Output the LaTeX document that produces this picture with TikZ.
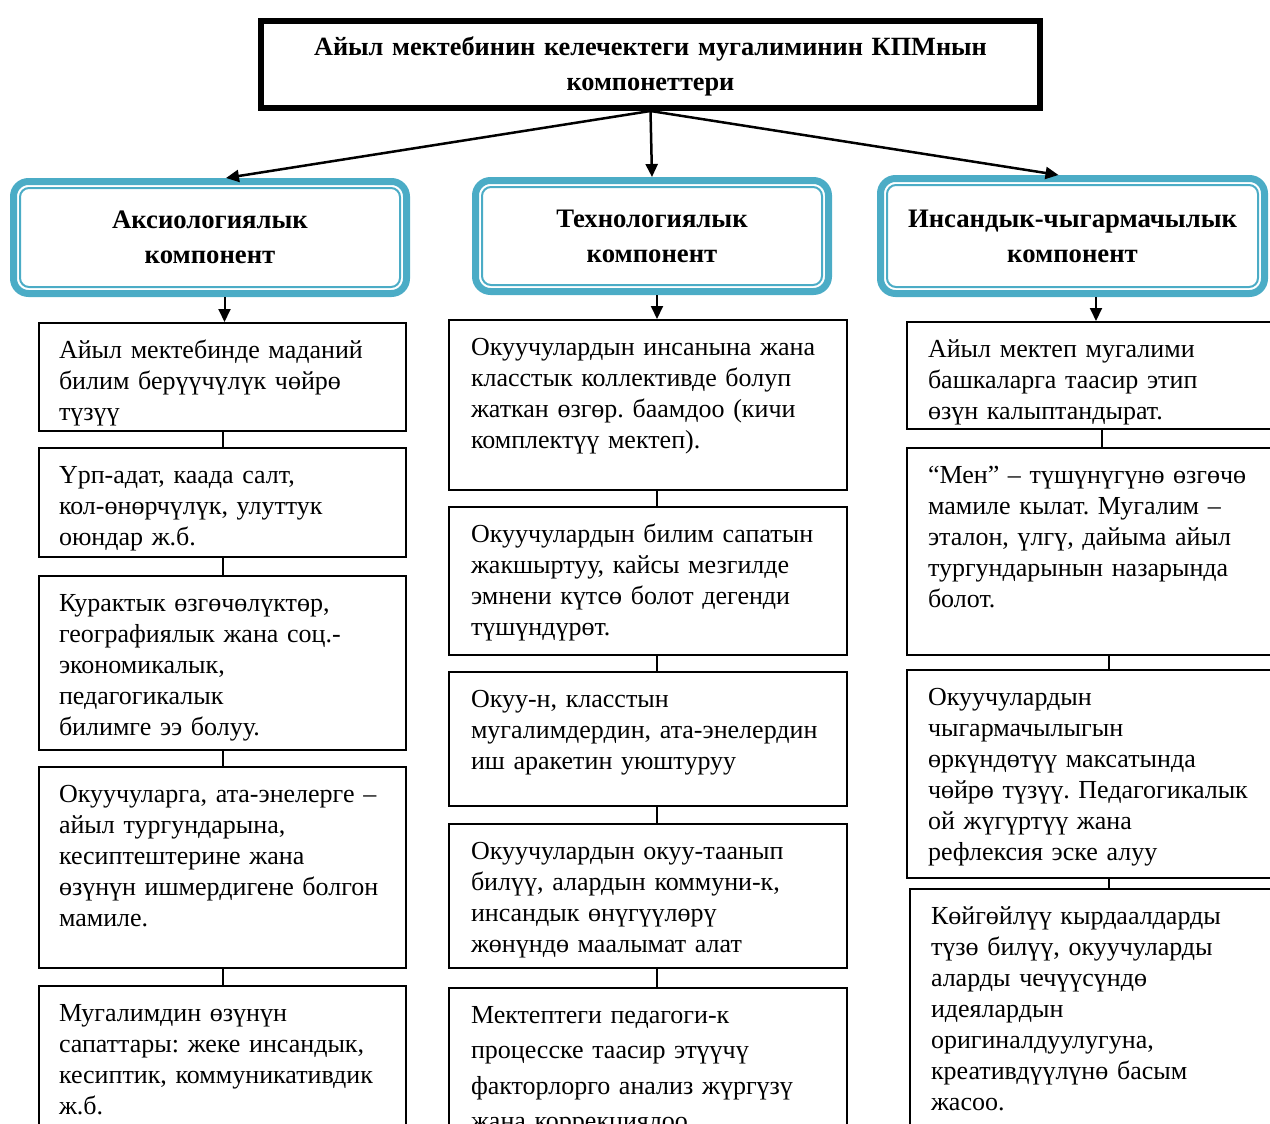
\documentclass[tikz,border=0pt]{standalone}
\usepackage{fontspec}
\setmainfont{Liberation Serif}
\usetikzlibrary{arrows.meta}
\definecolor{compcolor}{RGB}{75,172,198}
\frenchspacing

\begin{document}
\begin{tikzpicture}[x=1pt,y=-1pt,>={Triangle[length=13pt,width=12pt]},line width=2pt,
  title box/.style={draw,line width=6pt,text width=760pt,inner xsep=9.5pt,inner ysep=0pt,text height=35pt,text depth=52pt,anchor=north,align=center,font=\fontsize{26.3}{35}\selectfont\bfseries},
  comp box/.style={draw=compcolor,line width=7pt,rounded corners=15pt,align=center,font=\fontsize{26.7}{35}\selectfont\bfseries},
  item box/.style={draw,line width=2pt,anchor=north west,align=left,inner ysep=0pt,text height=35pt,font=\fontsize{26}{31}\selectfont}]
  \useasboundingbox (0,0) rectangle (1270,1124);
  \clip (0,0) rectangle (1270,1124);

  \node[title box] (title) at (650.5,18) {Айыл мектебинин келечектеги мугалиминин КПМнын\\компонеттери};

  \node[comp box,minimum width=393pt,minimum height=112pt] (ca) at (210,237.5) {Аксиологиялык\\компонент};
  \node[comp box,minimum width=353pt,minimum height=111pt] (cb) at (652,236) {Технологиялык\\компонент};
  \node[comp box,minimum width=384pt,minimum height=115pt] (cc) at (1072.5,236) {Инсандык-чыгармачылык\\компонент};
  % thin inner border of the component boxes
  \foreach \n in {ca,cb,cc}
    \draw[compcolor,rounded corners=9pt] ([shift={(10,10)}]\n.north west) rectangle ([shift={(-10,-10)}]\n.south east);

  % left column
  \node[item box,inner xsep=20pt,text width=327pt,text depth=73pt] (a1) at (38,322) {Айыл мектебинде маданий\\билим берүүчүлүк чөйрө\\түзүү};
  \node[item box,inner xsep=20pt,text width=327pt,text depth=74pt] (a2) at (38,447) {Үрп-адат, каада салт,\\кол-өнөрчүлүк, улуттук\\оюндар ж.б.};
  \node[item box,inner xsep=20pt,text width=327pt,text depth=139pt] (a3) at (38,575) {Курактык өзгөчөлүктөр,\\географиялык жана соц.-\\экономикалык,\\педагогикалык\\билимге ээ болуу.};
  \node[item box,inner xsep=20pt,text width=327pt,text depth=166pt] (a4) at (38,766) {Окуучуларга, ата-энелерге –\\айыл тургундарына,\\кесиптештерине жана\\өзүнүн ишмердигене болгон\\мамиле.};
  \node[item box,inner xsep=20pt,text width=327pt,text depth=130pt] (a5) at (38,985) {Мугалимдин өзүнүн\\сапаттары: жеке инсандык,\\кесиптик, коммуникативдик\\ж.б.};

  % middle column
  \node[item box,inner xsep=22pt,text width=354pt,text depth=135pt] (b1) at (448,319) {Окуучулардын инсанына жана\\класстык коллективде болуп\\жаткан өзгөр. баамдоо (кичи\\комплектүү мектеп).};
  \node[item box,inner xsep=22pt,text width=354pt,text depth=113pt] (b2) at (448,506) {Окуучулардын билим сапатын\\жакшыртуу, кайсы мезгилде\\эмнени күтсө болот дегенди\\түшүндүрөт.};
  \node[item box,inner xsep=22pt,text width=354pt,text depth=99pt] (b3) at (448,671) {Окуу-н, класстын\\мугалимдердин, ата-энелердин\\иш аракетин уюштуруу};
  \node[item box,inner xsep=22pt,text width=354pt,text depth=109pt] (b4) at (448,823) {Окуучулардын окуу-таанып\\билүү, алардын коммуни-к,\\инсандык өнүгүүлөрү\\жөнүндө маалымат алат};
  \node[item box,inner xsep=22pt,text width=354pt,text depth=135pt,font=\fontsize{26}{35.5}\selectfont] (b5) at (448,987) {Мектептеги педагоги-к\\процесске таасир этүүчү\\факторлорго анализ жүргүзү\\жана коррекциялоо};

  % right column
  \node[item box,inner xsep=21pt,text width=348pt,text depth=72pt] (c1) at (906,321) {Айыл мектеп мугалими\\башкаларга таасир этип\\өзүн калыптандырат.};
  \node[item box,inner xsep=21pt,text width=348pt,text depth=172pt] (c2) at (906,447) {“Мен” – түшүнүгүнө өзгөчө\\мамиле кылат. Мугалим –\\эталон, үлгү, дайыма айыл\\тургундарынын назарында\\болот.};
  \node[item box,inner xsep=21pt,text width=362pt,text depth=173pt] (c3) at (906,669) {Окуучулардын\\чыгармачылыгын\\өркүндөтүү максатында\\чөйрө түзүү. Педагогикалык\\ой жүгүртүү жана\\рефлексия эске алуу};
  \node[item box,inner xsep=21pt,text width=356pt,text depth=225pt] (c4) at (909,888) {Көйгөйлүү кырдаалдарды\\түзө билүү, окуучуларды\\аларды чечүүсүндө\\идеялардын\\оригиналдуулугуна,\\креативдүүлүнө басым\\жасоо.};

  % arrows
  \draw[->,line width=2.5pt] (title.south) -- ([xshift=16pt]ca.north);
  \draw[->,line width=2.5pt] (title.south) -- (cb.north);
  \draw[->,line width=2.5pt] (title.south) -- ([xshift=-14pt]cc.north);
  \draw[->] ([xshift=2pt]a1.north |- ca.south) -- ([xshift=2pt]a1.north);
  \draw[->] ([xshift=9pt]b1.north |- cb.south) -- ([xshift=9pt]b1.north);
  \draw[->] ([xshift=-6pt]c1.north |- cc.south) -- ([xshift=-6pt]c1.north);

\path
  (a1) edge (a2)
  (a2) edge (a3)
  (a3) edge (a4)
  (a4) edge (a5)
  ([xshift=9pt]b1.south) edge ([xshift=9pt]b2.north)
  ([xshift=9pt]b2.south) edge ([xshift=9pt]b3.north)
  ([xshift=9pt]b3.south) edge ([xshift=9pt]b4.north)
  ([xshift=9pt]b4.south) edge ([xshift=9pt]b5.north)
  (c1) edge (c2)
  ([xshift=7pt]c2.south) edge (c3)
  (c3) edge (c4)
;
\end{tikzpicture}
\end{document}
